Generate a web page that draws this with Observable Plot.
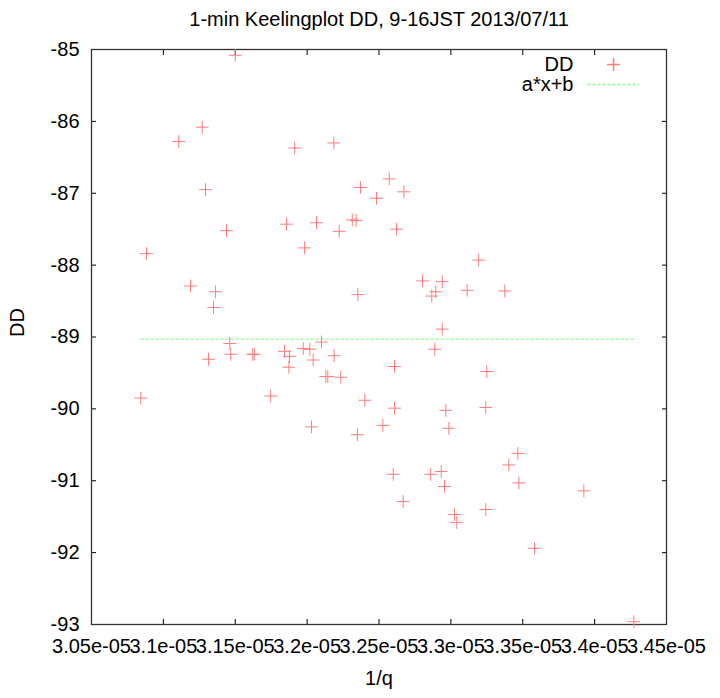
<!DOCTYPE html>
<html><head><meta charset="utf-8">
<script src="https://cdn.jsdelivr.net/npm/d3@7"></script>
<script src="https://cdn.jsdelivr.net/npm/@observablehq/plot@0.6"></script>
<style>body{margin:0;background:#fff;}</style>
</head><body><div id="chart"></div>
<script>
const title = "1-min Keelingplot DD, 9-16JST 2013/07/11";
const xLabel = "1/q";
const yLabel = "DD";
const seriesNames = ["DD", "a*x+b"];

const invQ = [
  3.1500e-5, 3.1270e-5, 3.1107e-5, 3.1914e-5, 3.2186e-5, 3.1293e-5, 3.1439e-5, 3.1857e-5, 3.2065e-5, 3.2223e-5,
  3.2314e-5, 3.2341e-5, 3.2371e-5, 3.2483e-5, 3.2571e-5, 3.2622e-5, 3.2673e-5, 3.0883e-5, 3.1982e-5, 3.1189e-5,
  3.1363e-5, 3.1349e-5, 3.2353e-5, 3.1462e-5, 3.1469e-5, 3.1314e-5, 3.1622e-5, 3.1632e-5, 3.1843e-5, 3.1877e-5,
  3.1873e-5, 3.1973e-5, 3.2019e-5, 3.2042e-5, 3.2100e-5, 3.2188e-5, 3.2130e-5, 3.2144e-5, 3.2234e-5, 3.0843e-5,
  3.1747e-5, 3.2401e-5, 3.2608e-5, 3.2608e-5, 3.2527e-5, 3.2030e-5, 3.3194e-5, 3.2803e-5, 3.2940e-5, 3.2895e-5,
  3.2867e-5, 3.3113e-5, 3.3375e-5, 3.2940e-5, 3.2888e-5, 3.3250e-5, 3.2965e-5, 3.3243e-5, 3.2986e-5, 3.2350e-5,
  3.2599e-5, 3.2668e-5, 3.2860e-5, 3.2933e-5, 3.2956e-5, 3.3025e-5, 3.3041e-5, 3.3243e-5, 3.3403e-5, 3.3466e-5,
  3.3473e-5, 3.3582e-5, 3.3925e-5, 3.4273e-5
];
const dd = [
  -85.08, -86.08, -86.28, -86.37, -86.30, -86.95, -87.52, -87.43, -87.41, -87.53,
  -87.37, -87.38, -86.92, -87.07, -86.80, -87.50, -86.98, -87.84, -87.76, -88.29,
  -88.37, -88.59, -88.41, -89.09, -89.24, -89.31, -89.24, -89.24, -89.20, -89.27,
  -89.42, -89.16, -89.17, -89.32, -89.07, -89.26, -89.55, -89.55, -89.56, -89.85,
  -89.82, -89.88, -89.41, -89.99, -90.23, -90.25, -87.93, -88.22, -88.23, -88.37,
  -88.43, -88.35, -88.36, -88.89, -89.17, -89.48, -90.02, -89.98, -90.27, -90.36,
  -90.91, -91.29, -90.91, -90.87, -91.08, -91.47, -91.58, -91.40, -90.78, -90.62,
  -91.03, -91.94, -91.14, -92.96
];

const fitX = [3.0843e-5, 3.4273e-5];
const fitY = [-89.03, -89.03];

const xTicks = [3.05e-5, 3.1e-5, 3.15e-5, 3.2e-5, 3.25e-5, 3.3e-5, 3.35e-5, 3.4e-5, 3.45e-5];
const xTickLabels = ["3.05e-05", "3.1e-05", "3.15e-05", "3.2e-05", "3.25e-05", "3.3e-05", "3.35e-05", "3.4e-05", "3.45e-05"];
const yTicks = [-93, -92, -91, -90, -89, -88, -87, -86, -85];
const yTickLabels = ["-93", "-92", "-91", "-90", "-89", "-88", "-87", "-86", "-85"];

const points = invQ.map((x, i) => ({x, y: dd[i]}));
const fit = fitX.map((x, i) => ({x, y: fitY[i]}));
const xLabMap = new Map(xTicks.map((t, i) => [t, xTickLabels[i]]));
const yLabMap = new Map(yTicks.map((t, i) => [t, yTickLabels[i]]));

const pointColor = "#ff7c7c";
const fitColor = "#8cf58c";
const legendLine = {draw(ctx) { ctx.moveTo(-26, 0); ctx.lineTo(26, 0); }};

const chart = Plot.plot({
  width: 720, height: 698,
  marginLeft: 91, marginRight: 54, marginTop: 49, marginBottom: 74,
  style: {fontFamily: "'Liberation Sans', Arial, sans-serif", fontSize: "20px", background: "#fff", color: "#000"},
  x: {domain: [xTicks[0], xTicks[xTicks.length - 1]]},
  y: {domain: [yTicks[0], yTicks[yTicks.length - 1]]},
  marks: [
    Plot.axisX(xTicks, {anchor: "bottom", tickSize: -5, tickPadding: 19.5, tickFormat: d => xLabMap.get(d), label: null}),
    Plot.axisX(xTicks, {anchor: "top", tickSize: -5, tickFormat: () => "", label: null}),
    Plot.axisY(yTicks, {anchor: "left", tickSize: -5, tickPadding: 17, tickFormat: d => yLabMap.get(d), label: null}),
    Plot.axisY(yTicks, {anchor: "right", tickSize: -5, tickFormat: () => "", label: null}),
    Plot.frame({stroke: "#333", strokeWidth: 1.3}),
    Plot.line(fit, {x: "x", y: "y", stroke: fitColor, strokeWidth: 1, strokeDasharray: "3,2"}),
    Plot.dot(points, {x: "x", y: "y", symbol: "plus", r: 4.2, stroke: pointColor, strokeWidth: 1}),
    // legend
    Plot.text([seriesNames[0]], {frameAnchor: "top-right", lineAnchor: "middle", text: d => d, textAnchor: "end", dx: -93, dy: 15}),
    Plot.dot([seriesNames[0]], {frameAnchor: "top-right", symbol: "plus", r: 4.2, stroke: pointColor, dx: -53, dy: 15}),
    Plot.text([seriesNames[1]], {frameAnchor: "top-right", lineAnchor: "middle", text: d => d, textAnchor: "end", dx: -93, dy: 35}),
    Plot.dot([seriesNames[1]], {frameAnchor: "top-right", symbol: legendLine, fill: "none", stroke: fitColor, strokeDasharray: "3,2", dx: -53, dy: 35}),
    // titles
    Plot.text([title], {frameAnchor: "top", lineAnchor: "middle", text: d => d, dy: -30}),
    Plot.text([xLabel], {frameAnchor: "bottom", lineAnchor: "middle", text: d => d, dy: 54}),
    Plot.text([yLabel], {frameAnchor: "left", lineAnchor: "middle", text: d => d, rotate: -90, dx: -74})
  ]
});
document.getElementById("chart").appendChild(chart);
</script>
</body></html>
